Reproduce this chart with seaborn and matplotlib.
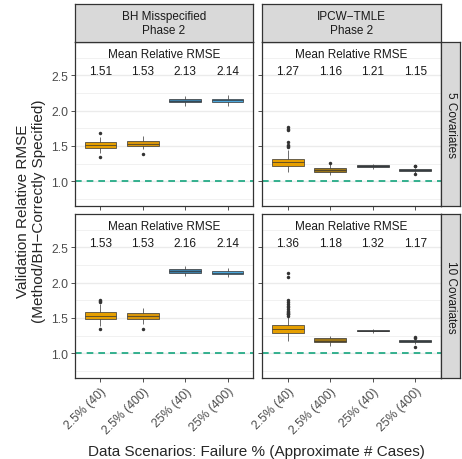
import matplotlib
matplotlib.use('Agg')
import matplotlib.pyplot as plt
import seaborn as sns
import pandas as pd

# Data
scenarios = ['2.5% (40)', '2.5% (400)', '25% (40)', '25% (400)']
methods = ['BH Misspecified\nPhase 2', 'IPCW\u2212TMLE\nPhase 2']
covariates = ['5 Covariates', '10 Covariates']

# box summaries per scenario: lower whisker, Q1, median, Q3, upper whisker
bh5_stats = [[1.40, 1.47, 1.515, 1.55, 1.62],
             [1.45, 1.495, 1.53, 1.565, 1.64],
             [2.07, 2.115, 2.14, 2.165, 2.21],
             [2.07, 2.115, 2.145, 2.17, 2.22]]
tmle5_stats = [[1.13, 1.22, 1.27, 1.32, 1.44],
               [1.09, 1.135, 1.16, 1.185, 1.24],
               [1.18, 1.20, 1.21, 1.225, 1.24],
               [1.12, 1.14, 1.155, 1.17, 1.19]]
bh10_stats = [[1.39, 1.48, 1.53, 1.58, 1.70],
              [1.41, 1.49, 1.53, 1.565, 1.645],
              [2.10, 2.135, 2.16, 2.185, 2.23],
              [2.08, 2.115, 2.14, 2.165, 2.20]]
tmle10_stats = [[1.175, 1.29, 1.345, 1.395, 1.52],
                [1.10, 1.155, 1.18, 1.21, 1.25],
                [1.29, 1.31, 1.32, 1.335, 1.35],
                [1.13, 1.155, 1.17, 1.185, 1.20]]

# outlying points
bh5_out = [[1.34, 1.68], [1.39], [], []]
tmle5_out = [[1.48, 1.50, 1.52, 1.55, 1.72, 1.74, 1.77], [1.26], [], [1.10, 1.21, 1.22]]
bh10_out = [[1.34, 1.72, 1.74, 1.75], [1.35], [], []]
tmle10_out = [[1.53, 1.55, 1.56, 1.57, 1.58, 1.60, 1.62, 1.65, 1.67, 1.70, 1.72, 1.76, 2.08, 2.13],
              [], [], [1.09, 1.22, 1.23]]

# mean relative RMSE labels
bh5_mean = ['1.51', '1.53', '2.13', '2.14']
tmle5_mean = ['1.27', '1.16', '1.21', '1.15']
bh10_mean = ['1.53', '1.53', '2.16', '2.14']
tmle10_mean = ['1.36', '1.18', '1.32', '1.17']

bh_colors = ['#E69F00', '#D9960A', '#3D7CA3', '#4CA7DC']
tmle_colors = ['#E69F00', '#9A7418', '#3B4A54', '#3E5662']

panels = [
    (0, 0, bh5_stats, bh5_out, bh5_mean, bh_colors),
    (0, 1, tmle5_stats, tmle5_out, tmle5_mean, tmle_colors),
    (1, 0, bh10_stats, bh10_out, bh10_mean, bh_colors),
    (1, 1, tmle10_stats, tmle10_out, tmle10_mean, tmle_colors),
]

sns.set_theme(style='white')
plt.rcParams['font.family'] = ['Liberation Sans', 'DejaVu Sans']

W, H = 462, 460
fig = plt.figure(figsize=(W / 100, H / 100), dpi=100)

col_x = [(75, 253), (262, 441)]
row_y = [(43, 207), (215, 379)]
dark = '#333333'


def fx(px):
    return px / W


def fy(px):
    return 1 - px / H


for r, c, stats, outs, means, cols in panels:
    x0, x1 = col_x[c]
    y0, y1 = row_y[r]
    ax = fig.add_axes([fx(x0), fy(y1), fx(x1 - x0), (y1 - y0) / H])

    box_df = pd.DataFrame({
        'scenario': [s for s, st in zip(scenarios, stats) for _ in st],
        'value': [v for st in stats for v in st],
    })
    out_df = pd.DataFrame({
        'scenario': [s for s, o in zip(scenarios, outs) for _ in o],
        'value': [v for o in outs for v in o],
    })

    # grid
    ax.set_yticks([1.0, 1.5, 2.0, 2.5])
    ax.set_yticks([0.75, 1.25, 1.75, 2.25, 2.75], minor=True)
    ax.grid(True, which='major', color='#EBEBEB', lw=1.0, zorder=0)
    ax.grid(True, which='minor', axis='y', color='#EBEBEB', lw=0.5, zorder=0)
    ax.set_axisbelow(True)

    ax.axhline(1.0, color='#14A57D', lw=1.2, ls=(0, (4, 3)), zorder=1)

    sns.boxplot(data=box_df, x='scenario', y='value', hue='scenario',
                order=scenarios, hue_order=scenarios, palette=cols,
                whis=(0, 100), width=0.75, saturation=1, linewidth=0.5,
                linecolor=dark, showfliers=False, legend=False, ax=ax,
                capprops=dict(visible=False))
    if len(out_df):
        sns.stripplot(data=out_df, x='scenario', y='value', order=scenarios,
                      jitter=False, color=dark, size=2.5, ax=ax, zorder=5)

    ax.set_xlim(-0.6, 3.6)
    ax.set_ylim(0.65, 2.97)
    ax.set_xlabel('')
    ax.set_ylabel('')

    ax.text(0.5, 0.927, 'Mean Relative RMSE', transform=ax.transAxes,
            ha='center', va='center', fontsize=8.5, color='#1A1A1A')
    for i, m in enumerate(means):
        ax.text(i, 0.823, m, transform=ax.get_xaxis_transform(),
                ha='center', va='center', fontsize=8.5, color='#1A1A1A')

    for sp in ax.spines.values():
        sp.set_color(dark)
        sp.set_linewidth(0.9)
    ax.tick_params(which='major', length=3, width=0.6, color=dark,
                   labelsize=8.8, labelcolor='#4D4D4D', pad=2,
                   bottom=True, left=True)
    ax.tick_params(which='minor', length=0)
    ax.set_xticks(range(4))
    if r == 1:
        ax.set_xticklabels(scenarios, rotation=45, ha='right',
                           rotation_mode='anchor')
    else:
        ax.set_xticklabels([])
    if c == 0:
        ax.set_yticklabels(['1.0', '1.5', '2.0', '2.5'])
    else:
        ax.set_yticklabels([])

# strips on top
for c, label in enumerate(methods):
    x0, x1 = col_x[c]
    sax = fig.add_axes([fx(x0), fy(43), fx(x1 - x0), 38 / H])
    sax.set_facecolor('#D9D9D9')
    sax.set_xticks([])
    sax.set_yticks([])
    for sp in sax.spines.values():
        sp.set_color(dark)
        sp.set_linewidth(0.9)
    sax.text(0.5, 0.5, label, ha='center', va='center', fontsize=8.5,
             color='#1A1A1A', linespacing=1.2, transform=sax.transAxes)

# strips on right
for r, label in enumerate(covariates):
    y0, y1 = row_y[r]
    sax = fig.add_axes([fx(441), fy(y1), fx(19), (y1 - y0) / H])
    sax.set_facecolor('#D9D9D9')
    sax.set_xticks([])
    sax.set_yticks([])
    for sp in sax.spines.values():
        sp.set_color(dark)
        sp.set_linewidth(0.9)
    sax.text(0.5, 0.5, label, ha='center', va='center', fontsize=8.5,
             color='#1A1A1A', rotation=-90, transform=sax.transAxes)

fig.text(fx(31), fy(211), 'Validation Relative RMSE\n(Method/BH\u2212Correctly Specified)',
         rotation=90, ha='center', va='center', fontsize=11, linespacing=1.1)
fig.text(fx(256), fy(452), 'Data Scenarios: Failure % (Approximate # Cases)',
         ha='center', va='center', fontsize=11)

fig.savefig('out.png', dpi=100)
